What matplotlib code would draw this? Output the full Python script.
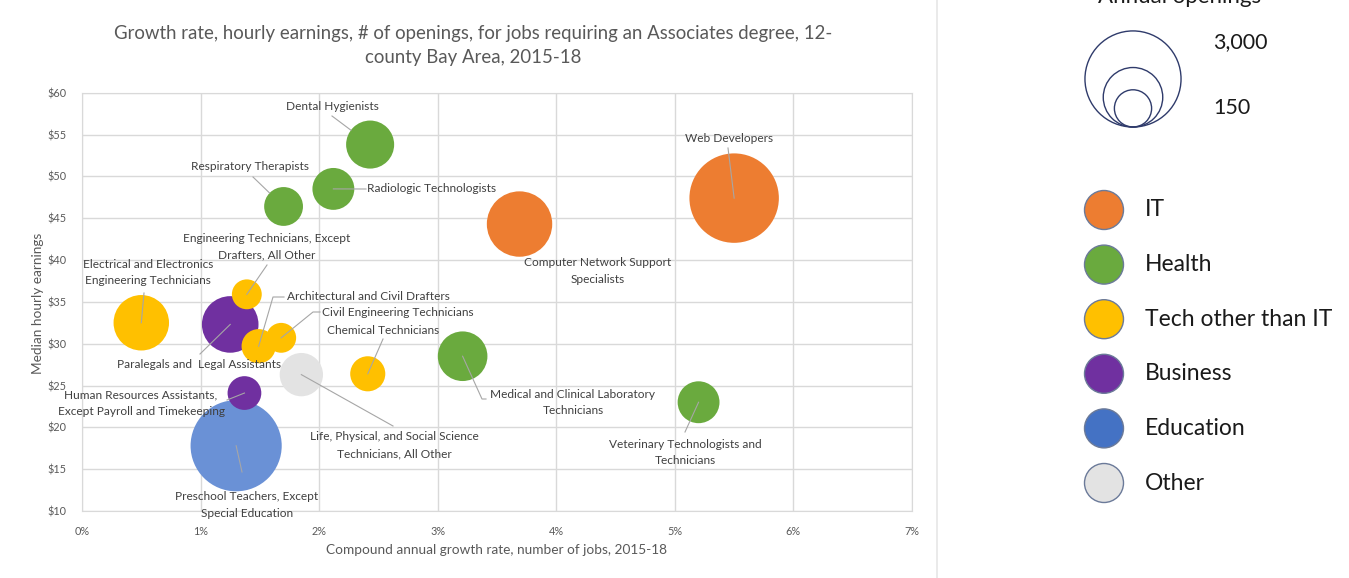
import matplotlib
matplotlib.use("Agg")

import matplotlib.pyplot as plt
from matplotlib.patches import Circle
import numpy as np

plt.rcParams["font.family"] = ["Lato", "DejaVu Sans"]

# --- data ------------------------------------------------------------------
jobs = [
    "Preschool Teachers, Except Special Education",
    "Life, Physical, and Social Science Technicians, All Other",
    "Paralegals and Legal Assistants",
    "Human Resources Assistants, Except Payroll and Timekeeping",
    "Electrical and Electronics Engineering Technicians",
    "Engineering Technicians, Except Drafters, All Other",
    "Architectural and Civil Drafters",
    "Civil Engineering Technicians",
    "Chemical Technicians",
    "Dental Hygienists",
    "Radiologic Technologists",
    "Respiratory Therapists",
    "Medical and Clinical Laboratory Technicians",
    "Veterinary Technologists and Technicians",
    "Computer Network Support Specialists",
    "Web Developers",
]
growth = [1.30, 1.85, 1.25, 1.37, 0.50, 1.39, 1.49, 1.68, 2.41,
          2.43, 2.12, 1.70, 3.21, 5.20, 3.69, 5.50]          # % per year
wage = [17.8, 26.3, 32.3, 24.1, 32.5, 35.9, 29.7, 30.7, 26.4,
        53.8, 48.5, 46.4, 28.5, 23.0, 44.3, 47.4]            # $ per hour
openings = [2700, 610, 1040, 370, 1000, 290, 380, 290, 400,
            750, 570, 490, 800, 570, 1390, 2600]
category = ["Education", "Other", "Business", "Business", "Tech", "Tech", "Tech",
            "Tech", "Tech", "Health", "Health", "Health", "Health", "Health",
            "IT", "IT"]

legend_cats = ["IT", "Health", "Tech", "Business", "Education", "Other"]
legend_names = ["IT", "Health", "Tech other than IT", "Business", "Education", "Other"]
bubble_colors = {"IT": "#ED7D31", "Health": "#6AAA3E", "Tech": "#FFC000",
                 "Business": "#7030A0", "Education": "#6A91D6", "Other": "#E3E3E3"}
legend_colors = {"IT": "#ED7D31", "Health": "#6AAA3E", "Tech": "#FFC000",
                 "Business": "#7030A0", "Education": "#4472C4", "Other": "#E3E3E3"}
size_legend_values = [3000, 1150, 450]
size_legend_labels = ["3,000", "150"]

x_ticks = [0, 1, 2, 3, 4, 5, 6, 7]
y_ticks = [10, 15, 20, 25, 30, 35, 40, 45, 50, 55, 60]

# label layout in image pixels: first-line centre, lines, alignment, leader points, stop at edge
label_layout = {
    "Dental Hygienists": ((332, 107), ["Dental Hygienists"], "center", [(332, 116)], True),
    "Respiratory Therapists": ((250, 167), ["Respiratory Therapists"], "center", [(253, 177)], True),
    "Radiologic Technologists": ((367, 189), ["Radiologic Technologists"], "left", [(366, 189)], False),
    "Engineering Technicians, Except Drafters, All Other": (
        (267, 238), ["Engineering Technicians, Except", "Drafters, All Other"], "center", [(267, 265)], False),
    "Electrical and Electronics Engineering Technicians": (
        (148, 264), ["Electrical and Electronics", "Engineering Technicians"], "center", [(144, 293)], False),
    "Architectural and Civil Drafters": (
        (287, 297), ["Architectural and Civil Drafters"], "left", [(284, 297), (273, 297)], False),
    "Civil Engineering Technicians": (
        (322, 312), ["Civil Engineering Technicians"], "left", [(320, 312), (313, 312)], False),
    "Chemical Technicians": ((383, 331), ["Chemical Technicians"], "center", [(383, 339)], False),
    "Paralegals and Legal Assistants": ((199, 365), ["Paralegals and  Legal Assistants"], "center", [(200, 354)], False),
    "Human Resources Assistants, Except Payroll and Timekeeping": (
        (141, 395), ["Human Resources Assistants,", "Except Payroll and Timekeeping"], "center", [(227, 400)], False),
    "Life, Physical, and Social Science Technicians, All Other": (
        (394, 437), ["Life, Physical, and Social Science", "Technicians, All Other"], "center", [(393, 426)], False),
    "Preschool Teachers, Except Special Education": (
        (247, 497), ["Preschool Teachers, Except", "Special Education"], "center", [(242, 472)], False),
    "Medical and Clinical Laboratory Technicians": (
        (573, 394), ["Medical and Clinical Laboratory", "Technicians"], "center", [(486, 399), (482, 399)], False),
    "Veterinary Technologists and Technicians": (
        (685, 444), ["Veterinary Technologists and", "Technicians"], "center", [(685, 432)], False),
    "Computer Network Support Specialists": (
        (598, 263), ["Computer Network Support", "Specialists"], "center", [], False),
    "Web Developers": ((729, 138), ["Web Developers"], "center", [(728, 148)], False),
}

W, H = 1349, 578
SIZE_SCALE = 1.595          # scatter area (pt^2) per annual opening
TEXT = "#404040"
AXIS_TEXT = "#595959"
GRID = "#D9D9D9"
LEADER = "#A6A6A6"

fig = plt.figure(figsize=(W / 100, H / 100), dpi=100)
fig.patch.set_facecolor("white")

ax = fig.add_axes([82 / W, 1 - 511 / H, (912 - 82) / W, (511 - 92.7) / H])
ax.set_xlim(0, 7)
ax.set_ylim(10, 60)
ax.set_xticks(x_ticks)
ax.set_xticklabels([f"{t}%" for t in x_ticks])
ax.set_yticks(y_ticks)
ax.set_yticklabels([f"${t}" for t in y_ticks])
ax.tick_params(length=0, labelsize=7.8, labelcolor=AXIS_TEXT)
ax.tick_params(axis="y", pad=11)
ax.tick_params(axis="x", pad=11)
ax.grid(True, color=GRID, linewidth=1.0)
ax.set_axisbelow(True)
for sp in ax.spines.values():
    sp.set_color(GRID)

draw_order = ["Education", "Other", "Business", "Tech", "Health", "IT"]
growth = np.array(growth)
wage = np.array(wage)
openings = np.array(openings)
category = np.array(category)
for z, cat in enumerate(draw_order):
    m = category == cat
    ax.scatter(growth[m], wage[m], s=openings[m] * SIZE_SCALE,
               color=bubble_colors[cat], edgecolors="none", zorder=3 + z)

# overlay in image pixel coordinates for text, leaders and legend
ov = fig.add_axes([0, 0, 1, 1], zorder=5)
ov.set_xlim(0, W)
ov.set_ylim(H, 0)
ov.axis("off")
ov.patch.set_alpha(0)

fig.canvas.draw()
to_ov = ov.transData.inverted()


def bubble_px(i):
    p = ax.transData.transform((growth[i], wage[i]))
    return to_ov.transform(p)


def radius_px(v):
    return np.sqrt(v * SIZE_SCALE) / 2 * 100 / 72


for i, name in enumerate(jobs):
    (tx, ty), lines, ha, pts, edge = label_layout[name]
    for k, line in enumerate(lines):
        ov.text(tx, ty + 16.5 * k, line, ha=ha, va="center", fontsize=8.6, color=TEXT)
    if not pts:
        continue
    cx, cy = bubble_px(i)
    end = np.array([cx, cy])
    last = np.array(pts[-1], dtype=float)
    if edge:
        d = end - last
        end = end - d / np.linalg.norm(d) * radius_px(openings[i])
    xs = [p[0] for p in pts] + [end[0]]
    ys = [p[1] for p in pts] + [end[1]]
    ov.plot(xs, ys, color=LEADER, lw=0.8)

# titles and axis titles
ov.text(473, 33, "Growth rate, hourly earnings, # of openings, for jobs requiring an Associates degree, 12-",
        ha="center", va="center", fontsize=13.4, color=AXIS_TEXT)
ov.text(473, 58, "county Bay Area, 2015-18", ha="center", va="center", fontsize=13.4, color=AXIS_TEXT)
ov.text(497, 550, "Compound annual growth rate, number of jobs, 2015-18",
        ha="center", va="center", fontsize=9.8, color=AXIS_TEXT)
ov.text(38, 303, "Median hourly earnings", ha="center", va="center", rotation=90,
        fontsize=9.8, color=AXIS_TEXT)

# chart area border on the right
ov.plot([937, 937], [0, H], color="#E6E6E6", lw=1.2)

# size legend
ov.text(1180, 3, "Annual openings", ha="center", va="baseline", fontsize=16, color="#1A1A1A")
for v in size_legend_values:
    r = radius_px(v)
    ov.add_patch(Circle((1133, 127 - r), r, fill=False, edgecolor="#2F3B6B", lw=1.0))
ov.text(1213, 42, size_legend_labels[0], ha="left", va="center", fontsize=15.5, color="#1A1A1A")
ov.text(1213, 108, size_legend_labels[1], ha="left", va="center", fontsize=15.5, color="#1A1A1A")

# category legend
for k, (cat, name) in enumerate(zip(legend_cats, legend_names)):
    y = 210 + 54.6 * k
    ov.add_patch(Circle((1104, y), 19.5, facecolor=legend_colors[cat],
                        edgecolor="#6B7A99", lw=1.0))
    ov.text(1145, y, name, ha="left", va="center", fontsize=16.5, color="#1A1A1A")

fig.savefig("out.png", dpi=100)
